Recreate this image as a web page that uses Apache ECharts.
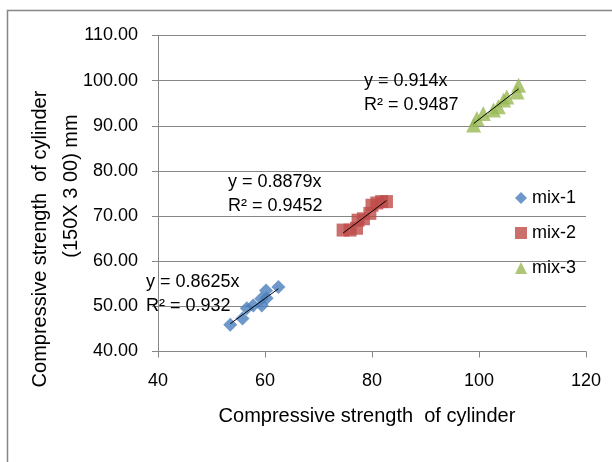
<!DOCTYPE html>
<html><head><meta charset="utf-8">
<script src="https://cdn.jsdelivr.net/npm/echarts@6/dist/echarts.min.js"></script>
<style>html,body{margin:0;padding:0;background:#fff}#c{width:612px;height:462px}</style>
</head><body><div id="c"></div>
<script>
const mix1X = [53.5, 55.8, 56.6, 57.8, 59.4, 59.3, 60.2, 60.3, 62.5];
const mix1Y = [45.9, 47.3, 49.6, 50.2, 50.2, 51.7, 53.5, 51.8, 54.3];
const mix2X = [74.6, 75.9, 77.1, 77.4, 78.4, 79.6, 80.0, 80.9, 81.8, 82.7];
const mix2Y = [66.9, 66.9, 67.3, 69.1, 69.4, 70.6, 72.4, 72.9, 73.2, 73.2];
const mix3X = [99.0, 99.6, 100.8, 102.7, 103.6, 104.6, 105.2, 107.1, 107.4];
const mix3Y = [90.2, 91.6, 92.7, 93.5, 94.2, 95.7, 96.4, 97.5, 99.0];
const slopes = [0.8625, 0.8879, 0.914];
const r2 = ["0.932", "0.9452", "0.9487"];
const names = ["mix-1", "mix-2", "mix-3"];
const xTicks = [40, 60, 80, 100, 120];
const yTicks = [40, 50, 60, 70, 80, 90, 100, 110];

const FONT = 'Liberation Sans';
const colors = ['#4A7EBB', '#BE4B48', '#98B954'];
const symbols = ['diamond', 'rect', 'triangle'];
const sizes = [14, 13, 15];
const xs = [mix1X, mix2X, mix3X], ys = [mix1Y, mix2Y, mix3Y];

const series = [];
for (let i = 0; i < 3; i++) {
  series.push({
    name: names[i], type: 'scatter', symbol: symbols[i], symbolSize: sizes[i],
    itemStyle: {color: colors[i]},
    data: xs[i].map((x, j) => [x, ys[i][j]]), z: 2
  });
}
for (let i = 0; i < 3; i++) {
  const lo = Math.min(...xs[i]), hi = Math.max(...xs[i]);
  series.push({
    name: 'trend' + i, type: 'line', symbol: 'none', silent: true,
    lineStyle: {color: '#000', width: 1}, z: 3,
    data: [[lo, lo * slopes[i]], [hi, hi * slopes[i]]]
  });
}

const eqPos = [[146, 270], [228, 170], [364, 69]];
const graphics = [{
  type: 'rect', shape: {x: 7.5, y: 10.5, width: 700, height: 600},
  style: {fill: null, stroke: '#868686', lineWidth: 1.5}, silent: true
}];
for (let i = 0; i < 3; i++) {
  graphics.push({type: 'text', left: eqPos[i][0], top: eqPos[i][1],
    style: {text: 'y = ' + slopes[i] + 'x\nR² = ' + r2[i], font: '18px ' + FONT, fill: '#000', lineHeight: 24}, z: 10});
}
graphics.push({type: 'text', x: 40, y: 239, rotation: Math.PI / 2,
  style: {text: 'Compressive strength  of cylinder', font: '20px ' + FONT, fill: '#000', align: 'center', verticalAlign: 'middle'}});
graphics.push({type: 'text', x: 71, y: 186, rotation: Math.PI / 2,
  style: {text: '(150X 3 00) mm', font: '20px ' + FONT, fill: '#000', align: 'center', verticalAlign: 'middle'}});
graphics.push({type: 'text', x: 367, y: 416,
  style: {text: 'Compressive strength  of cylinder', font: '20px ' + FONT, fill: '#000', align: 'center', verticalAlign: 'middle'}});

const chart = echarts.init(document.getElementById('c'), null, {renderer: 'canvas'});
chart.setOption({
  animation: false,
  textStyle: {fontFamily: FONT},
  grid: {left: 158, right: 26, top: 35.5, bottom: 110.5, containLabel: false},
  xAxis: {
    type: 'value', min: xTicks[0], max: xTicks[xTicks.length - 1], interval: 20,
    axisLine: {onZero: false, lineStyle: {color: '#868686'}},
    axisTick: {show: true, length: 6, lineStyle: {color: '#868686'}},
    axisLabel: {color: '#000', fontSize: 18, margin: 21, fontFamily: FONT},
    splitLine: {show: false}
  },
  yAxis: {
    type: 'value', min: yTicks[0], max: yTicks[yTicks.length - 1], interval: 10,
    axisLine: {show: true, onZero: false, lineStyle: {color: '#868686'}},
    axisTick: {show: true, length: 6, lineStyle: {color: '#868686'}},
    axisLabel: {color: '#000', fontSize: 18, margin: 20, fontFamily: FONT, formatter: v => v.toFixed(2)},
    splitLine: {show: true, lineStyle: {color: '#868686', width: 1}}
  },
  legend: {
    data: names.map((n, i) => ({name: n, icon: symbols[i]})),
    orient: 'vertical', left: 510, top: 184, itemGap: 17,
    itemWidth: 12, itemHeight: 12,
    textStyle: {fontSize: 18, color: '#000', fontFamily: FONT}
  },
  graphic: graphics,
  series: series
});
</script>
</body></html>
